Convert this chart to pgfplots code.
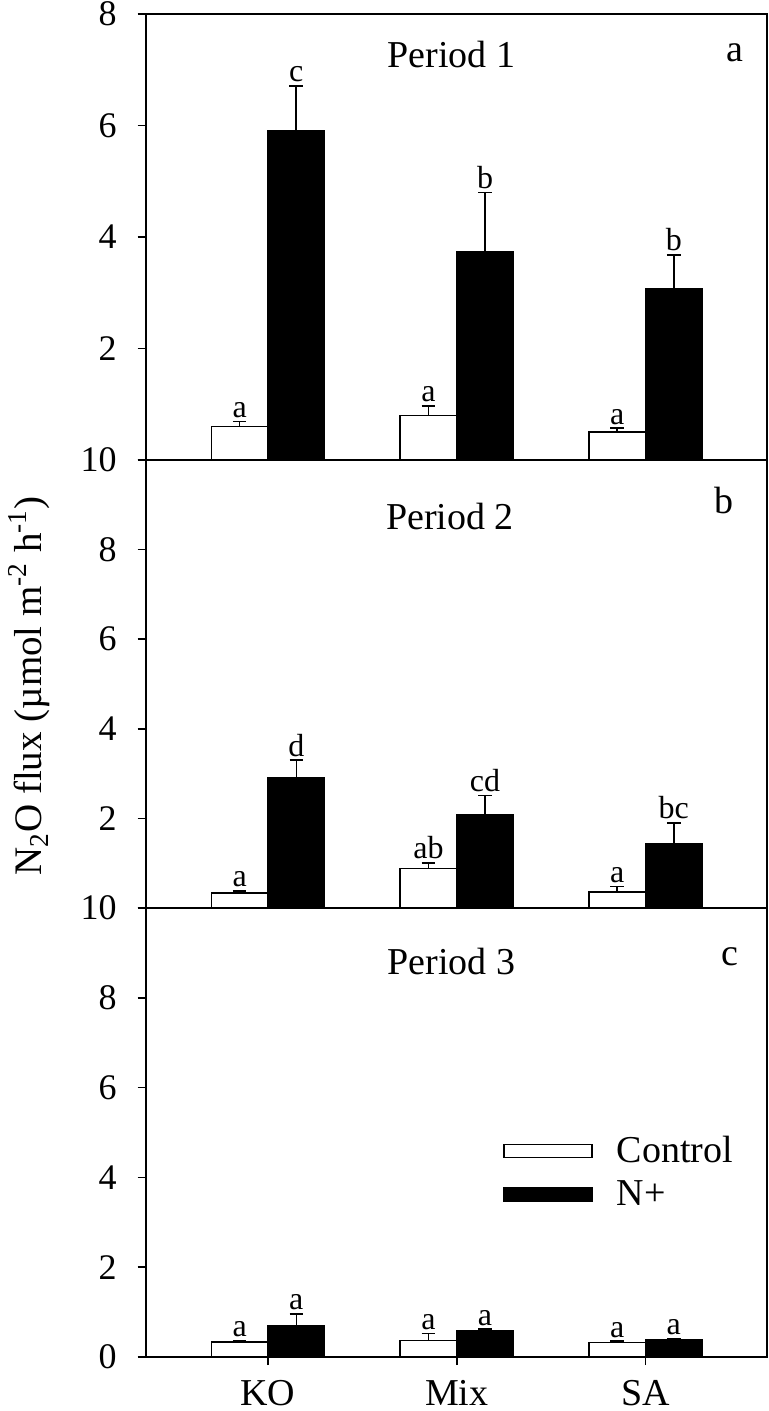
\documentclass[border=0pt]{standalone}
\usepackage{fontspec}
\setmainfont{Liberation Serif}
\usepackage{pgfplots}
\usepackage{pgfplotstable}
\pgfplotsset{compat=1.18}

% Period 1
\pgfplotstableread{
x y err lab
0 0.60 0.09 a
1 0.80 0.17 a
2 0.50 0.07 a
}\ctrlA
\pgfplotstableread{
x y err lab
0 5.91 0.80 c
1 3.73 1.07 b
2 3.07 0.61 b
}\nA
% Period 2
\pgfplotstableread{
x y err lab
0 0.33 0.05 a
1 0.88 0.13 ab
2 0.36 0.12 a
}\ctrlB
\pgfplotstableread{
x y err lab
0 2.90 0.40 d
1 2.07 0.44 cd
2 1.44 0.46 bc
}\nB
% Period 3
\pgfplotstableread{
x y err lab
0 0.34 0.03 a
1 0.37 0.15 a
2 0.32 0.03 a
}\ctrlC
\pgfplotstableread{
x y err lab
0 0.70 0.26 a
1 0.58 0.04 a
2 0.385 0.02 a
}\nC

\pgfplotsset{
 panel/.style={
  scale only axis, width=310.65pt,
  xmin=-0.648, xmax=2.644,
  ybar=0pt, bar width=28.3pt,
  axis line style={line width=1pt},
  tick style={line width=0.8pt, black},
  major tick length=4pt,
  tick align=outside,
  ytick pos=left,
  xtick pos=bottom,
  ticklabel style={font=\fontsize{18}{18}\selectfont},
  yticklabel style={xshift=-7pt},
  /pgf/number format/assume math mode=true,
  xtick=\empty,
  clip=false,
  legend image code/.code={\draw[##1] (0pt,-3.25pt) rectangle (44pt,3.25pt);},
 },
 barlab/.style={
  error bars/.cd, y dir=plus, y explicit,
   error bar style={line width=0.8pt, black},
   error mark options={rotate=90, mark size=3.4pt, line width=0.8pt, black},
  /pgfplots/.cd,
  visualization depends on={\thisrow{err} \as \err},
  nodes near coords, point meta=explicit symbolic,
  every node near coord/.append style={anchor=south, black,
     font=\fontsize{16}{16}\selectfont, inner sep=1.5pt,
     shift={(axis direction cs:0,\err)}},
 },
 ctrl/.style={draw=black, fill=white, line width=0.8pt, barlab},
 nplus/.style={draw=black, fill=black, line width=0.8pt, barlab},
}

\begin{document}
\begin{tikzpicture}
\useasboundingbox (-72.85pt,-27pt) rectangle (311.65pt,678.5pt);

\begin{axis}[panel, at={(0,448.5pt)}, anchor=south west, height=223pt,
  ymin=0, ymax=8, ytick={0,2,4,6,8}, yticklabels={,2,4,6,8}]
 \addplot[ctrl] table[x=x, y=y, y error=err, meta=lab] {\ctrlA};
 \addplot[nplus] table[x=x, y=y, y error=err, meta=lab] {\nA};
 \node[anchor=base, font=\fontsize{19}{19}\selectfont] at (rel axis cs:0.492,0.881) {Period 1};
 \node[anchor=base, font=\fontsize{19}{19}\selectfont] at (rel axis cs:0.9485,0.893) {a};
\end{axis}

\begin{axis}[panel, at={(0,224.5pt)}, anchor=south west, height=224pt,
  ymin=0, ymax=10, ytick={0,2,4,6,8,10}, yticklabels={,2,4,6,8,10}]
 \addplot[ctrl] table[x=x, y=y, y error=err, meta=lab] {\ctrlB};
 \addplot[nplus] table[x=x, y=y, y error=err, meta=lab] {\nB};
 \node[anchor=base, font=\fontsize{19}{19}\selectfont] at (rel axis cs:0.49,0.844) {Period 2};
 \node[anchor=base, font=\fontsize{19}{19}\selectfont] at (rel axis cs:0.930,0.881) {b};
\end{axis}

\begin{axis}[panel, at={(0,0)}, anchor=south west, height=224.5pt,
  ymin=0, ymax=10, ytick={0,2,4,6,8,10},
  xtick={0,1,2}, xticklabels={KO,Mix,SA},
  xticklabel style={font=\fontsize{19}{19}\selectfont, yshift=-4pt},
  legend style={draw=none, fill=none, at={(rel axis cs:0.575,0.492)}, anchor=north west,
    font=\fontsize{19}{19}\selectfont, row sep=7.5pt, inner sep=0pt,
    nodes={inner ysep=0pt, inner xsep=6pt},
    /tikz/every odd column/.append style={column sep=6pt}},
  legend cell align=left]
 \addplot[ctrl] table[x=x, y=y, y error=err, meta=lab] {\ctrlC};
 \addplot[nplus] table[x=x, y=y, y error=err, meta=lab] {\nC};
 \legend{Control, N+}
 \node[anchor=base, font=\fontsize{19}{19}\selectfont] at (rel axis cs:0.492,0.851) {Period 3};
 \node[anchor=base, font=\fontsize{19}{19}\selectfont] at (rel axis cs:0.940,0.873) {c};
\end{axis}

\node[rotate=90, anchor=base, font=\fontsize{19.5}{19.5}\selectfont] at (-51.85pt,335.5pt)
  {N\textsubscript{2}O flux (µmol m\textsuperscript{-2} h\textsuperscript{-1})};
\end{tikzpicture}
\end{document}
